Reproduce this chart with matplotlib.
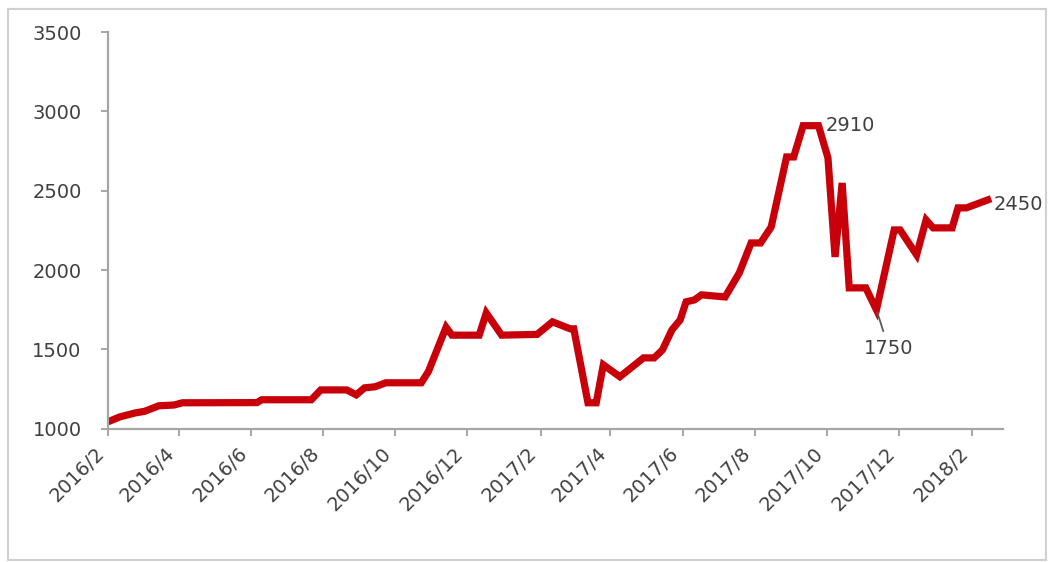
import matplotlib

matplotlib.use("Agg")
import matplotlib.dates as mdates
import matplotlib.pyplot as plt
import pandas as pd
from matplotlib.patches import Rectangle

# price series
dates = [
    "2016-02-01", "2016-02-11", "2016-02-24", "2016-03-03", "2016-03-15", "2016-03-28",
    "2016-04-04", "2016-06-06", "2016-06-10", "2016-07-22", "2016-07-30", "2016-08-21",
    "2016-08-29", "2016-09-05", "2016-09-14", "2016-09-23", "2016-10-23", "2016-10-29",
    "2016-11-13", "2016-11-18", "2016-12-11", "2016-12-17", "2016-12-30", "2017-01-29",
    "2017-02-11", "2017-02-26", "2017-03-01", "2017-03-13", "2017-03-20", "2017-03-26",
    "2017-04-09", "2017-04-29", "2017-05-08", "2017-05-15", "2017-05-23", "2017-05-30",
    "2017-06-04", "2017-06-11", "2017-06-17", "2017-07-07", "2017-07-19", "2017-07-29",
    "2017-08-06", "2017-08-15", "2017-08-28", "2017-09-03", "2017-09-11", "2017-09-24",
    "2017-10-02", "2017-10-08", "2017-10-14", "2017-10-20", "2017-11-03", "2017-11-12",
    "2017-11-27", "2017-12-02", "2017-12-16", "2017-12-24", "2017-12-30", "2018-01-15",
    "2018-01-20", "2018-01-27", "2018-02-17",
]
prices = [
    1044, 1075, 1100, 1110, 1145, 1150,
    1164, 1165, 1183, 1183, 1245, 1245,
    1214, 1258, 1265, 1290, 1290, 1360,
    1640, 1590, 1590, 1730, 1590, 1595,
    1674, 1630, 1630, 1164, 1164, 1403,
    1328, 1447, 1447, 1497, 1623, 1686,
    1800, 1812, 1844, 1831, 1982, 2171,
    2171, 2272, 2713, 2713, 2910, 2910,
    2707, 2083, 2549, 1888, 1888, 1750,
    2253, 2253, 2096, 2316, 2266, 2266,
    2392, 2392, 2450,
]
y_ticks = [1000, 1500, 2000, 2500, 3000, 3500]
tick_months = pd.date_range("2016-02-01", "2018-02-01", freq="2MS")

x = pd.to_datetime(dates)
text_color = "#404040"
axis_color = "#a6a6a6"

fig = plt.figure(figsize=(10.48, 5.62), dpi=100)
ax = fig.add_axes([0.103, 0.237, 0.854, 0.706])

ax.plot(x, prices, color="#c8000a", lw=5.2, solid_joinstyle="miter", solid_capstyle="butt")

ax.set_xlim(pd.Timestamp("2016-02-01"), pd.Timestamp("2018-02-27"))
ax.set_ylim(1000, 3500)
ax.set_yticks(y_ticks)
ax.set_xticks(tick_months)
ax.xaxis.set_major_formatter(mdates.DateFormatter("%Y/%-m"))
ax.set_xticklabels([f"{d.year}/{d.month}" for d in tick_months], rotation=45, ha="right", va="top")

for side in ("top", "right"):
    ax.spines[side].set_visible(False)
for side in ("left", "bottom"):
    ax.spines[side].set_color(axis_color)
    ax.spines[side].set_linewidth(1.6)
ax.tick_params(axis="both", colors=axis_color, labelcolor=text_color, labelsize=14, width=1.4)
ax.tick_params(axis="x", length=5, pad=6)
ax.tick_params(axis="y", length=5, pad=14)

# value callouts
ax.annotate("2910", xy=(pd.Timestamp("2017-09-24"), 2910), xytext=(5, 0), textcoords="offset points",
            ha="left", va="center", fontsize=14, color=text_color)
ax.annotate("2450", xy=(pd.Timestamp("2018-02-17"), 2450), xytext=(2, -4), textcoords="offset points",
            ha="left", va="center", fontsize=14, color=text_color)
ax.annotate("1750", xy=(pd.Timestamp("2017-11-12"), 1750), xytext=(9, -28), textcoords="offset points",
            ha="center", va="center", fontsize=14, color=text_color,
            arrowprops=dict(arrowstyle="-", color="#595959", lw=1.3, shrinkA=4, shrinkB=2))

fig.patches.append(Rectangle((0.008, 0.004), 0.99, 0.98, transform=fig.transFigure,
                             fill=False, edgecolor="#d0d0d0", lw=1.5))

fig.savefig("out.png", dpi=100)
